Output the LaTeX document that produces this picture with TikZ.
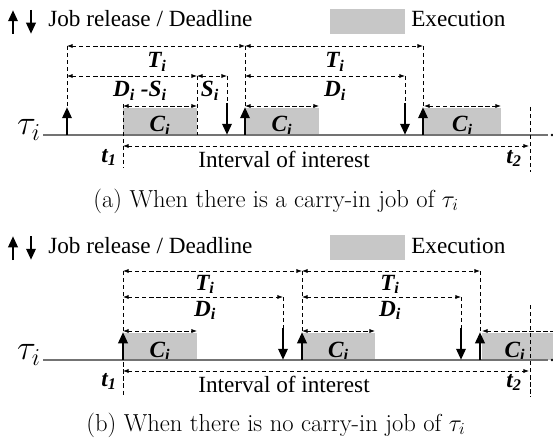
\documentclass[tikz,border=0pt]{standalone}
\usepackage{fontspec}
\newfontfamily\tnr{Liberation Serif}
\usetikzlibrary{arrows.meta}

\tikzset{
  relarrow/.style={line width=2pt,-{Triangle[length=8pt,width=6.5pt]}},
  dashy/.style={line width=0.6pt,dash pattern=on 3pt off 2pt},
  dim/.style={dashy,{Latex[length=4pt,width=3pt]}-{Latex[length=4pt,width=3pt]}},
  exefill/.style={fill=black!22},
  axis/.style={draw=black!55,line width=1pt},
  lbl/.style={font=\fontsize{16.5}{18}\tnr\bfseries\itshape,anchor=base,inner sep=0pt},
  txt/.style={font=\fontsize{16.5}{18}\tnr,inner sep=0pt},
  captxt/.style={font=\fontsize{17.5}{20}\selectfont,anchor=base,inner sep=0pt},
}

\newcommand{\legendrow}[2]{%
 \draw[relarrow] (13,#2+34) -- (13,#2+10);%
 \draw[relarrow] (31,#2+10) -- (31,#2+34);%
 \node[txt,anchor=base west] (#1rel) at (48,#2+27) {Job release / Deadline};%
 \fill[exefill] (330,#2+9) rectangle (405,#2+34);%
 \node[txt,anchor=base west] (#1exe) at (411,#2+27) {Execution};%
}
\newcommand{\jobup}[2]{\draw[relarrow] (#1,#2) -- (#1,#2-28);}
\newcommand{\jobdown}[2]{\draw[relarrow] (#1,#2-32) -- (#1,#2);}
\newcommand{\runbox}[4]{%
 \fill[exefill] (#2,#4-27) rectangle (#3,#4);%
 \node[lbl] (#1) at ({(#2+#3)/2},#4-3) {C\textsubscript{i}};%
}

\begin{document}
\begin{tikzpicture}[x=0.025cm,y=-0.025cm]
 \useasboundingbox (0,0) rectangle (553,440);

 \legendrow{a}{0}
 \runbox{ca1}{123}{197}{135}
 \runbox{ca2}{245}{319}{135}
 \runbox{ca3}{424}{501}{135}
 \draw[axis] (43,135) -- (548,135);
 \fill (552,135) circle (1pt);
 \node[anchor=east,inner sep=0pt] (taua) at (41,130) {\fontsize{24}{24}\selectfont$\tau_i$};
 \jobup{67}{135} \jobup{245}{135} \jobup{423}{135}
 \jobdown{227}{135} \jobdown{405}{135}
 \draw[dashy] (67,46) -- (67,107) (245,46) -- (245,107) (423,46) -- (423,107)
   (197,76) -- (197,135) (227,76) -- (227,103) (405,76) -- (405,103)
   (123,104) -- (123,168) (530,107) -- (530,172);
 \draw[dim] (67,46) -- (245,46);
 \draw[dim] (245,46) -- (423,46);
 \draw[dim] (67,76) -- (197,76);
 \draw[dim] (197,76) -- (227,76);
 \draw[dim] (245,76) -- (405,76);
 \draw[dim] (123,106) -- (197,106);
 \draw[dim] (245,106) -- (319,106);
 \draw[dim] (424,106) -- (501,106);
 \draw[dim] (123,146) -- (529,146);
 \node[lbl] (ta1) at (157,68) {T\textsubscript{i}};
 \node[lbl] (ta2) at (335,68) {T\textsubscript{i}};
 \node[lbl] (dsa) at (140,97) {D\textsubscript{i} -S\textsubscript{i}};
 \node[lbl] (sa) at (210,97) {S\textsubscript{i}};
 \node[lbl] (da2) at (335,97) {D\textsubscript{i}};
 \node[lbl] (t1a) at (109,162) {t\textsubscript{1}};
 \node[lbl] (t2a) at (514,163) {t\textsubscript{2}};
 \node[txt,anchor=base] (inta) at (284,167) {Interval of interest};
 \node[captxt] (capa) at (276,207) {(a) When there is a carry-in job of $\tau_i$};

 \legendrow{b}{226}
 \runbox{cb1}{123}{197}{360}
 \runbox{cb2}{302}{375}{360}
 \fill[exefill] (482,333) rectangle (553,360);
 \node[lbl] (cb3) at (515,357) {C\textsubscript{i}};
 \draw[axis] (43,360) -- (548,360);
 \fill (552,360) circle (1pt);
 \node[anchor=east,inner sep=0pt] (taub) at (41,355) {\fontsize{24}{24}\selectfont$\tau_i$};
 \jobup{123}{360} \jobup{302}{360} \jobup{480}{360}
 \jobdown{283}{360} \jobdown{461}{360}
 \draw[dashy] (123,271) -- (123,397) (302,271) -- (302,332) (480,271) -- (480,332)
   (283,297) -- (283,328) (461,297) -- (461,328) (530,305) -- (530,397);
 \draw[dim] (123,271) -- (302,271);
 \draw[dim] (302,271) -- (480,271);
 \draw[dim] (123,297) -- (283,297);
 \draw[dim] (302,297) -- (461,297);
 \draw[dim] (123,331) -- (197,331);
 \draw[dim] (302,331) -- (375,331);
 \draw[dashy,{Latex[length=4pt,width=3pt]}-] (482,331) -- (553,331);
 \draw[dim] (123,371) -- (529,371);
 \node[lbl] (tb1) at (205,290) {T\textsubscript{i}};
 \node[lbl] (db1) at (205,316) {D\textsubscript{i}};
 \node[lbl] (tb2) at (390,290) {T\textsubscript{i}};
 \node[lbl] (db2) at (390,316) {D\textsubscript{i}};
 \node[lbl] (t1b) at (109,386) {t\textsubscript{1}};
 \node[lbl] (t2b) at (514,387) {t\textsubscript{2}};
 \node[txt,anchor=base] (intb) at (284,392) {Interval of interest};
 \node[captxt] (capb) at (276,431) {(b) When there is no carry-in job of $\tau_i$};
\end{tikzpicture}
\end{document}
